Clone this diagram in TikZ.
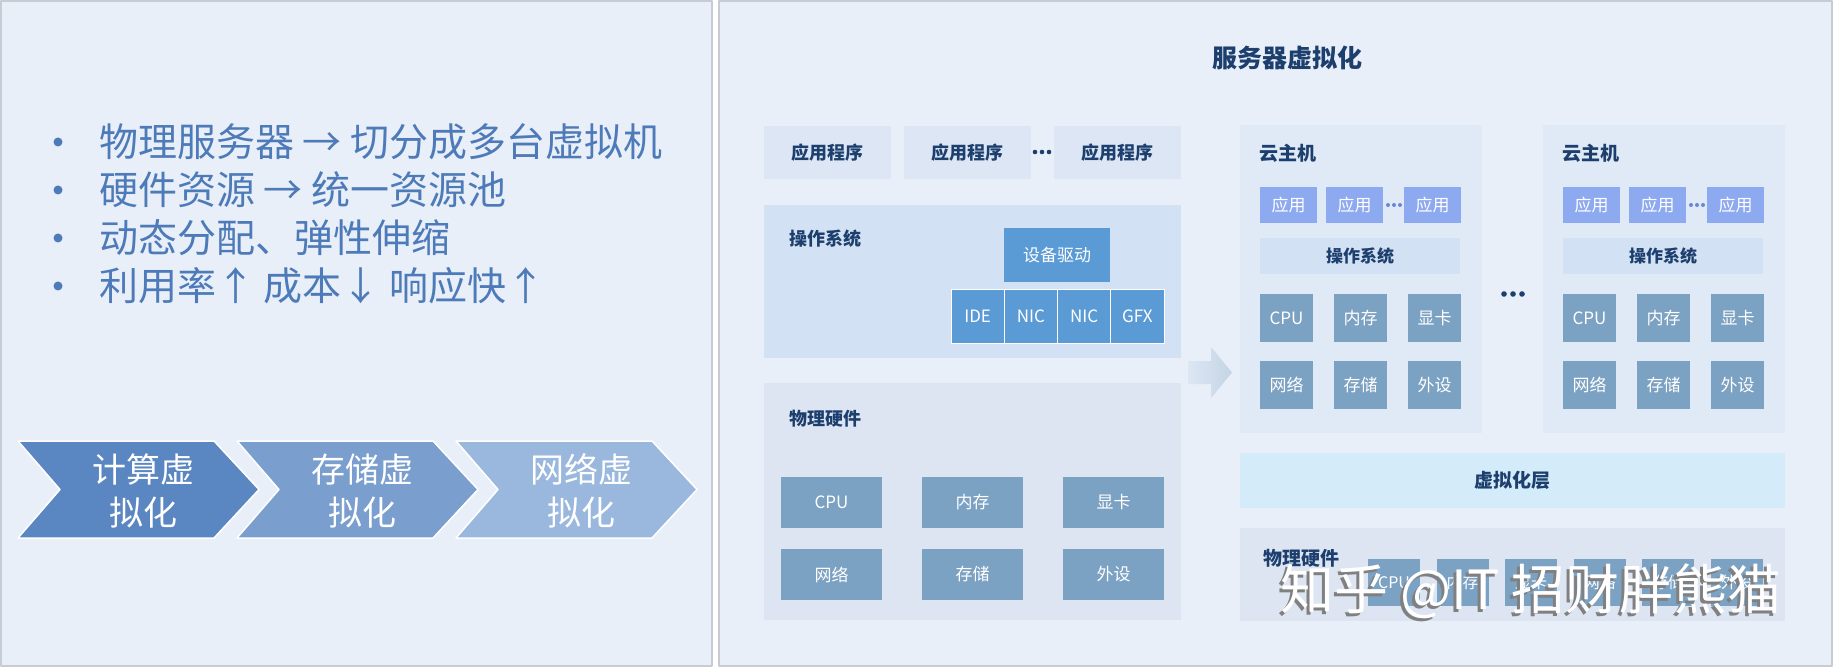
\documentclass[tikz,border=0pt]{standalone}
\usepackage{fontspec}
\setmainfont{Noto Sans CJK SC}
\usepackage{tikz}
\definecolor{vzpanel}{HTML}{E9EFF8}
\definecolor{vzrule}{HTML}{C8CCD2}
\definecolor{vzbullet}{HTML}{4D7AB8}
\definecolor{vznavy}{HTML}{1D3F6E}
\definecolor{vzchevA}{HTML}{5A86C1}
\definecolor{vzchevB}{HTML}{7A9FCE}
\definecolor{vzchevC}{HTML}{9AB7DD}
\definecolor{vzapp}{HTML}{DCE6F5}
\definecolor{vzos}{HTML}{D2E1F3}
\definecolor{vzdrv}{HTML}{5B9BD5}
\definecolor{vzphys}{HTML}{DCE5F1}
\definecolor{vzhw}{HTML}{7BA1C3}
\definecolor{vzvm}{HTML}{E0E9F6}
\definecolor{vzvmapp}{HTML}{8DA9F0}
\definecolor{vzvmdot}{HTML}{6C86D9}
\definecolor{vzlayer}{HTML}{D4EBFA}

\begin{document}
\begin{tikzpicture}[x=1pt, y=-1pt, line join=round,
    panel/.style={fill=vzpanel, draw=vzrule, line width=2},
    box/.style={fill=#1, inner sep=0pt, outer sep=0pt},
    tag/.style={text=vznavy, inner sep=0pt, font=\fontsize{19}{22}\selectfont\bfseries},
    tile/.style={fill=#1, text=white, inner sep=0pt, outer sep=0pt, font=\fontsize{17}{20}\selectfont},
    bullettxt/.style={text=vzbullet, inner sep=0pt, anchor=west, font=\fontsize{39}{46}\selectfont},
    chevtxt/.style={text=white, align=center, inner sep=0pt, font=\fontsize{34}{43}\selectfont}]
  \useasboundingbox (0,0) rectangle (1834,668);
  \fill[white] (0,0) rectangle (1834,668);
  % panels
  \filldraw[panel] (1,1) rectangle (712,666);
  \filldraw[panel] (719,1) rectangle (1832,666);

  % bullet list
  \foreach \i/\y/\t in {1/142/物理服务器 → 切分成多台虚拟机, 2/190/硬件资源 → 统一资源池,
      3/238/动态分配、弹性伸缩, 4/286/利用率↑ 成本↓ 响应快↑} {
    \fill[vzbullet] (58,\y) circle (4.5);
    \node[bullettxt] (pt\i) at (99,\y) {\t};
  }

  % chevrons
  \foreach \i/\l/\c/\t in {1/18/vzchevA/计算虚\\拟化, 2/237/vzchevB/存储虚\\拟化, 3/456/vzchevC/网络虚\\拟化} {
    \filldraw[fill=\c, draw=white, line width=1.5] (\l,441) -- (\l+196,441) -- (\l+241,489.5)
      -- (\l+196,538) -- (\l,538) -- (\l+42,489.5) -- cycle;
    \node[chevtxt] (chev\i) at (\l+125,491) {\t};
  }

  % server, before
  \node[font=\fontsize{25}{28}\selectfont\bfseries, text=vznavy, inner sep=0pt] (title) at (1287,58) {服务器虚拟化};
  \foreach \i/\x in {1/764,2/904,3/1054}
    \node[box=vzapp, tag, font=\fontsize{18}{20}\selectfont\bfseries, minimum width=127, minimum height=53, anchor=north west] (app\i) at (\x,126) {应用程序};
  \foreach \dx in {-7,0,7} \fill[vznavy] (1042+\dx,152) circle (2.3);
  \node[box=vzos, minimum width=417, minimum height=153, anchor=north west] (os) at (764,205) {};
  \node[tag, font=\fontsize{18}{20}\selectfont\bfseries, anchor=west] (oslbl) at (789,239) {操作系统};
  \node[tile=vzdrv, minimum width=106, minimum height=54, anchor=north west] (drv) at (1004,228) {设备驱动};
  \foreach \i/\t in {0/IDE,1/NIC,2/NIC,3/GFX}
    \node[tile=vzdrv, draw=white, line width=1, minimum width=53.25, minimum height=53, anchor=north west] (dev\i) at (951+53.25*\i,290) {\t};
  \node[box=vzphys, minimum width=417, minimum height=237, anchor=north west] (phys) at (764,383) {};
  \node[tag, font=\fontsize{18}{20}\selectfont\bfseries, anchor=west] (physlbl) at (789,419) {物理硬件};
  \foreach \i/\x/\y/\t in {1/781/477/CPU, 2/922/477/内存, 3/1063/477/显卡,
      4/781/549/网络, 5/922/549/存储, 6/1063/549/外设}
    \node[tile=vzhw, minimum width=101, minimum height=51, anchor=north west] (hw\i) at (\x,\y) {\t};

  % arrow
  \shade[left color=vzapp, right color=vzhw!45] (1188,361) -- (1211,361) -- (1211,347) -- (1232,372.5)
    -- (1211,398) -- (1211,384) -- (1188,384) -- cycle;

  % cloud hosts
  \foreach \v/\s in {1/0,2/303} {
    \node[box=vzvm, minimum width=242, minimum height=308, anchor=north west] (vm\v) at (1240+\s,125) {};
    \node[tag, anchor=west] (vm\v-lbl) at (1259+\s,153) {云主机};
    \foreach \j/\x in {1/1260,2/1326,3/1404}
      \node[tile=vzvmapp, minimum width=57, minimum height=36, anchor=north west] (vm\v-app\j) at (\x+\s,187) {应用};
    \foreach \dx in {-6,0,6} \fill[vzvmdot] (1394+\s+\dx,205) circle (2);
    \node[box=vzos, tag, font=\fontsize{17}{20}\selectfont\bfseries, minimum width=200, minimum height=36, anchor=north west] (vm\v-os) at (1260+\s,238) {操作系统};
    \foreach \j/\x/\y/\t in {1/1260/294/CPU, 2/1334/294/内存, 3/1408/294/显卡,
        4/1260/361/网络, 5/1334/361/存储, 6/1408/361/外设}
      \node[tile=vzhw, minimum width=53, minimum height=48, anchor=north west] (vm\v-hw\j) at (\x+\s,\y) {\t};
  }
  \foreach \dx in {-9,0,9} \fill[vznavy] (1513+\dx,294) circle (2.8);

  % virtualization layer + host hardware
  \node[box=vzlayer, tag, minimum width=545, minimum height=55, anchor=north west] (virt) at (1240,453) {虚拟化层};
  \node[box=vzphys, minimum width=545, minimum height=93, anchor=north west] (host) at (1240,528) {};
  \node[tag, anchor=west] (hostlbl) at (1263,558) {物理硬件};
  \foreach \j/\t in {0/CPU,1/内存,2/显卡,3/网络,4/存储,5/外设}
    \node[tile=vzhw, font=\fontsize{16}{18}\selectfont, minimum width=52, minimum height=47, anchor=north west] (hh\j) at (1368+68.6*\j,559) {\t};

  % watermark
  \node[text=black!50, font=\fontsize{54}{60}\selectfont] (wmsh) at (1528,594) {知乎 @IT 招财胖熊猫};
  \node[text=white, font=\fontsize{54}{60}\selectfont] (wm) at (1531,591) {知乎 @IT 招财胖熊猫};
\end{tikzpicture}
\end{document}
